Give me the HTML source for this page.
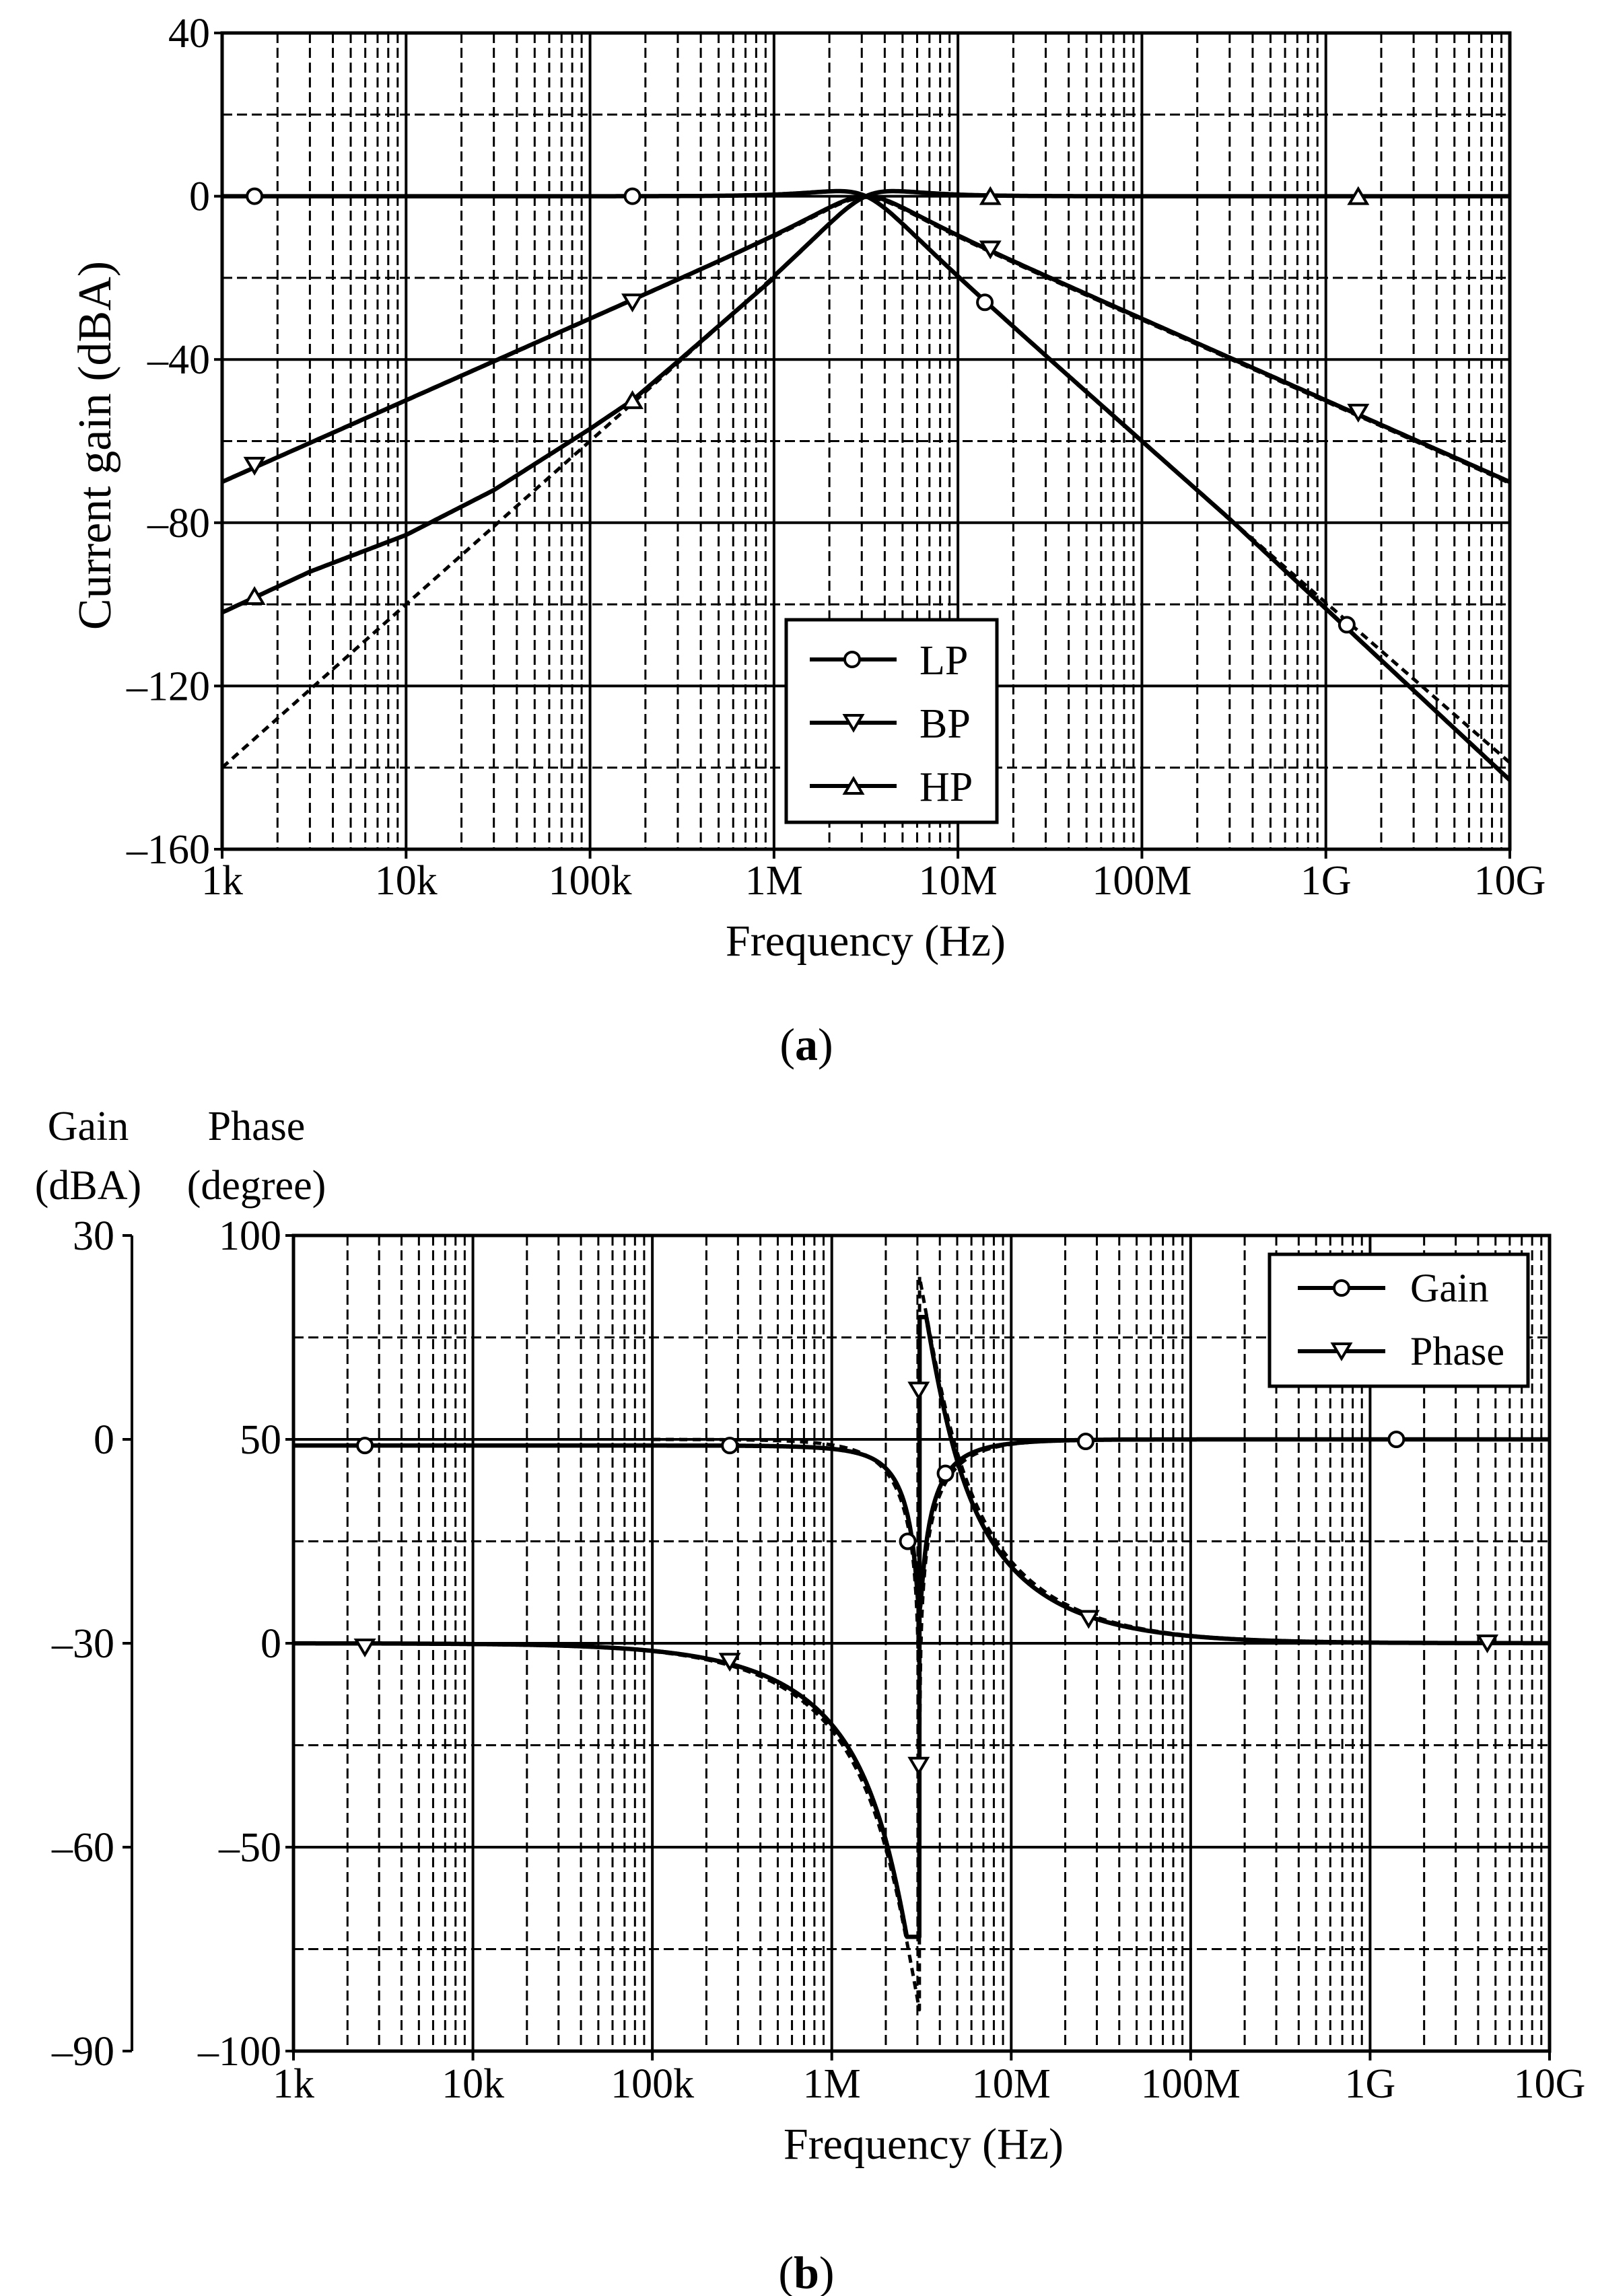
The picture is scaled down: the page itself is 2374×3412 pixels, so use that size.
<!DOCTYPE html>
<html><head><meta charset="utf-8"><style>
html,body{margin:0;padding:0;background:#fff;}
svg{display:block;}
text{font-family:"Liberation Serif",serif;fill:#000;}
</style></head><body>
<svg id="s" width="2374" height="3412" viewBox="0 0 2374 3412" xmlns="http://www.w3.org/2000/svg"></svg>
<script>
const S=document.getElementById('s');let out='';
function add(s){out+=s;}
function L(x1,y1,x2,y2,w,d){add(`<line x1="${x1}" y1="${y1}" x2="${x2}" y2="${y2}" stroke="#000" stroke-width="${w}"${d?` stroke-dasharray="${d}"`:''}/>`);}
function T(x,y,s,size,anchor,extra){add(`<text x="${x}" y="${y}" font-size="${size}" text-anchor="${anchor||'middle'}" ${extra||''}>${s}</text>`);}
function path(pts,w,d){let s='M'+pts.map(p=>p[0].toFixed(1)+' '+p[1].toFixed(1)).join(' L');add(`<path d="${s}" fill="none" stroke="#000" stroke-width="${w}" stroke-linejoin="round"${d?` stroke-dasharray="${d}"`:''}/>`);}
function circ(x,y){add(`<circle cx="${x}" cy="${y}" r="11" fill="#fff" stroke="#000" stroke-width="4"/>`);}
function tri(x,y,down){const h=22,w=13;if(down)add(`<polygon points="${x-w},${y-h/2} ${x+w},${y-h/2} ${x},${y+h/2}" fill="#fff" stroke="#000" stroke-width="4"/>`);else add(`<polygon points="${x-w},${y+h/2} ${x+w},${y+h/2} ${x},${y-h/2}" fill="#fff" stroke="#000" stroke-width="4"/>`);}
const labs=['1k','10k','100k','1M','10M','100M','1G','10G'];
function grid(X0,X1,Y0,Y1,solidY,dashY,xb){
  const dec=(X1-X0)/7;
  for(let d=0;d<7;d++)for(let m=2;m<=9;m++){const x=X0+dec*(d+Math.log10(m));L(x,Y0,x,Y1,3,'15 7');}
  for(let d=1;d<7;d++){const x=X0+dec*d;L(x,Y0,x,Y1,4);}
  dashY.forEach(y=>L(X0,y,X1,y,3,'15 7'));
  solidY.forEach(y=>L(X0,y,X1,y,4));
  add(`<rect x="${X0}" y="${Y0}" width="${X1-X0}" height="${Y1-Y0}" fill="none" stroke="#000" stroke-width="5"/>`);
  for(let d=0;d<=7;d++){const x=X0+dec*d;L(x,Y1,x,Y1+14,4);T(x,xb,labs[d],62);}
}
const CW=6.5, DW=5;
// ---------- (a)
const ax0=330,ax1=2243,ay0=49,ay1=1262;
const adec=(ax1-ax0)/7;
const AX=f=>ax0+adec*Math.log10(f/1e3);
const AY=v=>ay0+(40-v)*(ay1-ay0)/200;
let sol=[],dsh=[];
for(let v=40;v>=-160;v-=40){sol.push(AY(v));}
for(let v=20;v>-160;v-=40)dsh.push(AY(v));
grid(ax0,ax1,ay0,ay1,sol.slice(1,-1),dsh,1329);
for(let v=40;v>=-160;v-=40){const y=AY(v);L(318,y,ax0,y,4);T(312,y+21,v<0?'–'+(-v):String(v),62,'end');}
const f0=3.16e6;
function biq(f,type){const w=f/f0;const re=1-w*w,im=w;const den=Math.sqrt(re*re+im*im);let n=type=='LP'?1:type=='BP'?w:w*w;return 20*Math.log10(n/den);}
function curve(fn,X,Y,fa,fb){const p=[];for(let i=0;i<=600;i++){const f=fa*Math.pow(fb/fa,i/600);let v=fn(f);p.push([X(f),Y(v)]);}return p;}
add(`<clipPath id="ca"><rect x="${ax0}" y="${ay0}" width="${ax1-ax0}" height="${ay1-ay0}"/></clipPath><g clip-path="url(#ca)">`);
path(curve(f=>biq(f,'LP')-(f>3e8?3*Math.log10(f/3e8)/1.5:0),AX,AY,1e3,1e10),CW);
path(curve(f=>biq(f,'LP')+(f>3e8?0.8*Math.log10(f/3e8):0),AX,AY,1e3,1e10),DW,'12 8');
path(curve(f=>biq(f,'BP'),AX,AY,1e3,1e10),CW);
path(curve(f=>biq(f,'BP')-0.3,AX,AY,1e6,1e10),DW,'12 8');
const hpPts=[[1e3,-102],[3e3,-92],[1e4,-83],[3e4,-72],[1e5,-57],[1.7e5,-50],[3e5,-40.5],[1e6,-20]];
function hpSolid(f){if(f>=1e6)return biq(f,'HP');const lf=Math.log10(f);for(let i=0;i<hpPts.length-1;i++){const a=Math.log10(hpPts[i][0]),b=Math.log10(hpPts[i+1][0]);if(lf>=a&&lf<=b){const t=(lf-a)/(b-a);return hpPts[i][1]+t*(hpPts[i+1][1]-hpPts[i][1]);}}return -102;}
path(curve(hpSolid,AX,AY,1e3,1e10),CW);
path(curve(f=>biq(f,'HP'),AX,AY,1e3,1e7),DW,'12 8');
add('</g>');
[[1.5e3,0],[1.7e5,0],[1.4e7,-26],[1.3e9,-105]].forEach(p=>circ(AX(p[0]),AY(p[1])));
[[1.5e3,-66],[1.7e5,-26],[1.5e7,-13],[1.5e9,-53]].forEach(p=>tri(AX(p[0]),AY(p[1]),true));
[[1.5e3,-98],[1.7e5,-50],[1.5e7,0],[1.5e9,0]].forEach(p=>tri(AX(p[0]),AY(p[1]),false));
add(`<rect x="1168" y="921" width="313" height="301" fill="#fff" stroke="#000" stroke-width="5"/>`);
[[980,'LP'],[1074,'BP'],[1168,'HP']].forEach((e,i)=>{L(1203,e[0],1332,e[0],6);if(i==0)circ(1266,e[0]);else tri(1268,e[0],i==1);T(1366,e[0]+22,e[1],62,'start');});
T(142,662,'Current gain (dBA)',70,'middle','transform="rotate(-90 142 662)" dy="22"');
T(1286,1420,'Frequency (Hz)',66);
add(`<text x="1198" y="1575" font-size="68" text-anchor="middle">(<tspan font-weight="bold">a</tspan>)</text>`);
// ---------- (b)
const bx0=436,bx1=2302,by0=1836,by1=3048;
const BX=f=>bx0+(bx1-bx0)/7*Math.log10(f/1e3);
const BY=p=>by0+(100-p)*(by1-by0)/200;
const BG=g=>BY(50+g*200/120);
grid(bx0,bx1,by0,by1,[BY(50),BY(0),BY(-50)],[BY(75),BY(25),BY(-25),BY(-75)],3117);
for(let p=100;p>=-100;p-=50){const y=BY(p);L(424,y,bx0,y,4);T(418,y+21,p<0?'–'+(-p):String(p),62,'end');}
L(196,by0,196,by1,4);
for(let g=30;g>=-90;g-=30){const y=BG(g);L(182,y,196,y,4);T(170,y+21,g<0?'–'+(-g):String(g),62,'end');}
const fb0=3.08e6;
function notch(f,e,Q){const w=f/fb0;const re=1-w*w;const m=Math.sqrt(re*re+(w*e)**2)/Math.sqrt(re*re+(w/Q)**2);const ph=(Math.atan2(w*e,re)-Math.atan2(w/Q,re))*180/Math.PI;return [20*Math.log10(m),ph];}
function curveB(fn,fa,fb,n,Y){const p=[];for(let i=0;i<=n;i++){const f=fa*Math.pow(fb/fa,i/n);p.push([BX(f),Y(fn(f))]);}return p;}
add(`<clipPath id="cb"><rect x="${bx0}" y="${by0}" width="${bx1-bx0}" height="${by1-by0}"/></clipPath><g clip-path="url(#cb)">`);
path(curveB(f=>{const w=f/fb0;return Math.max(notch(f,0.06,1)[0],-27)-0.9/(1+w*w*0.5);},1e3,1e10,3000,BG),CW);
path(curveB(f=>Math.max(notch(f,0.0,0.8)[0],-95),1e5,1e8,3000,BG),DW,'12 8');
// phase solid: limited peaks (-72 / +80)
path(curveB(f=>{const w=f/fb0;let r=notch(f,0.0,1)[1];if(w<1)return Math.max(r,-72);return Math.min(r,80);},1e3,1e10,4000,BY),CW);
path(curveB(f=>notch(f,0.0,0.93)[1],1e5,1e9,4000,BY),DW,'12 8');
add('</g>');
[[2.5e3,-0.9],[2.7e5,-0.9],[2.65e6,-15],[4.3e6,-5],[2.6e7,-0.3],[1.4e9,0]].forEach(p=>circ(BX(p[0]),BG(p[1])));
[[2.5e3,-1],[2.7e5,-4.5],[3.05e6,62],[3.05e6,-30],[2.7e7,6],[4.5e9,0]].forEach(p=>tri(BX(p[0]),BY(p[1]),true));
add(`<rect x="1886" y="1864" width="384" height="196" fill="#fff" stroke="#000" stroke-width="5"/>`);
[[1914,'Gain'],[2008,'Phase']].forEach((e,i)=>{L(1928,e[0],2058,e[0],6);if(i==0)circ(1993,e[0]);else tri(1993,e[0],true);T(2095,e[0]+20,e[1],60,'start');});
T(131,1694,'Gain',62);T(131,1782,'(dBA)',62);
T(381,1694,'Phase',62);T(381,1782,'(degree)',62);
T(1372,3208,'Frequency (Hz)',66);
add(`<text x="1198" y="3400" font-size="68" text-anchor="middle">(<tspan font-weight="bold">b</tspan>)</text>`);
S.innerHTML=out;
</script>
</body></html>
